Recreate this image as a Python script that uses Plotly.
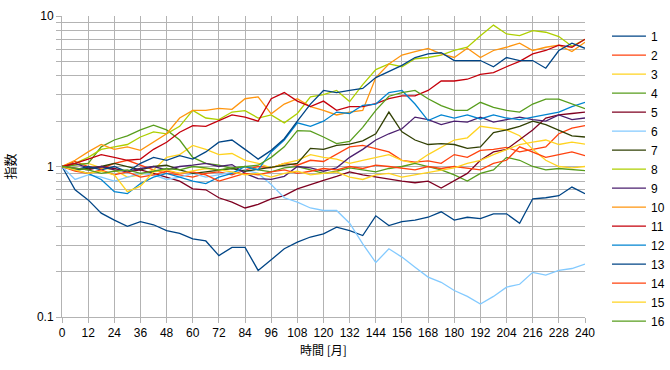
import plotly.graph_objects as go

MONTHS = list(range(0, 241, 6))

S1 = [1.0, 0.70, 0.60, 0.49, 0.44, 0.40, 0.43, 0.41, 0.375, 0.36, 0.33, 0.32, 0.256, 0.29, 0.29, 0.204, 0.24, 0.284, 0.314, 0.34, 0.357,
      0.395, 0.375, 0.348, 0.47, 0.405, 0.43, 0.44, 0.46, 0.50, 0.44, 0.46, 0.45, 0.485, 0.485, 0.42, 0.61, 0.62, 0.64, 0.73, 0.66]
S2 = [1.0, 1.08, 1.0, 0.97, 1.05, 1.1, 1.02, 0.95, 0.9, 0.88, 0.85, 0.9, 0.92, 0.88, 0.95, 1.0, 0.98, 1.05, 1.02, 1.1, 1.08,
      1.2, 1.35, 1.38, 1.32, 1.25, 1.1, 1.07, 1.09, 1.05, 1.2, 1.15, 1.28, 1.3, 1.34, 1.25, 1.3, 1.35, 1.65, 1.8, 1.87]
S3 = [1.0, 1.03, 1.05, 0.98, 0.95, 0.85, 0.88, 0.95, 1.15, 1.2, 1.38, 1.3, 1.2, 1.22, 1.1, 1.05, 0.98, 1.05, 1.1, 1.2, 1.15,
      1.12, 1.05, 1.1, 1.15, 1.2, 1.1, 1.05, 1.2, 1.35, 1.5, 1.55, 1.85, 1.8, 1.75, 1.6, 1.3, 1.1, 1.0, 0.98, 1.0]
S4 = [1.0, 1.02, 1.05, 1.35, 1.5, 1.6, 1.75, 1.88, 1.75, 1.5, 1.15, 1.05, 1.02, 0.97, 1.0, 0.95, 0.92, 0.98, 1.0, 0.95, 0.9,
      0.93, 0.98, 0.95, 0.92, 0.97, 1.0, 1.05, 1.0, 0.95, 0.88, 0.8, 0.9, 0.95, 1.15, 1.1, 1.0, 0.95, 0.97, 0.95, 0.94]
S5 = [1.0, 0.97, 0.95, 1.0, 0.97, 0.92, 0.95, 0.9, 0.85, 0.8, 0.71, 0.7, 0.62, 0.58, 0.53, 0.56, 0.61, 0.64, 0.71, 0.76, 0.81,
      0.86, 0.92, 0.88, 0.85, 0.83, 0.8, 0.78, 0.8, 0.72, 0.8, 0.9, 1.1, 1.25, 1.3, 1.5, 1.75, 2.1, 2.2, 2.25, 2.3]
S6 = [1.0, 0.82, 0.88, 0.85, 0.8, 0.85, 0.9, 0.88, 0.82, 0.85, 0.9, 0.85, 0.88, 0.92, 0.95, 0.9, 0.76, 0.62, 0.58, 0.53, 0.51,
      0.51, 0.42, 0.306, 0.23, 0.284, 0.25, 0.214, 0.184, 0.17, 0.15, 0.137, 0.122, 0.137, 0.158, 0.165, 0.198, 0.19, 0.204, 0.21, 0.225]
S7 = [1.0, 0.95, 0.97, 1.0, 1.05, 1.0, 0.95, 1.0, 1.02, 0.95, 0.9, 0.92, 0.95, 0.97, 0.93, 0.96, 0.98, 1.02, 1.05, 1.32, 1.3,
      1.38, 1.41, 1.48, 1.65, 2.3, 1.7, 1.5, 1.4, 1.42, 1.4, 1.32, 1.35, 1.68, 1.75, 1.85, 2.0, 1.9, 1.75, 1.6, 1.57]
S8 = [1.0, 1.05, 1.15, 1.3, 1.35, 1.4, 1.57, 1.7, 1.65, 1.85, 2.36, 2.1, 2.05, 2.3, 2.35, 2.1, 2.2, 1.95, 2.25, 2.9, 3.0,
      3.2, 2.7, 3.5, 4.4, 4.8, 4.6, 5.2, 5.3, 5.5, 5.9, 6.2, 7.4, 8.7, 7.6, 7.4, 8.0, 7.8, 7.3, 6.3, 7.0]
S9 = [1.0, 1.05, 0.98, 1.0, 0.95, 0.93, 0.97, 1.0, 0.95, 1.0, 1.02, 1.05, 1.0, 1.03, 0.9, 0.83, 0.82, 0.86, 1.0, 0.98, 0.93,
      0.98, 1.15, 1.3, 1.5, 1.65, 1.78, 2.13, 2.05, 1.9, 2.0, 1.97, 2.13, 1.97, 2.05, 2.13, 2.05, 2.0, 2.2, 2.05, 2.1]
S10 = [1.0, 1.1, 1.25, 1.4, 1.3, 1.35, 1.28, 1.45, 1.65, 2.1, 2.36, 2.36, 2.43, 2.4, 2.82, 2.9, 2.24, 2.6, 2.82, 2.5, 2.36,
       2.2, 2.3, 2.36, 3.9, 4.8, 5.5, 5.8, 6.1, 5.6, 5.3, 6.1, 5.3, 5.9, 6.2, 6.6, 5.9, 6.2, 6.4, 5.8, 6.7]
S11 = [1.0, 1.05, 1.12, 1.2, 1.15, 1.1, 1.12, 1.3, 1.45, 1.69, 1.87, 1.85, 2.02, 2.2, 2.13, 2.0, 2.82, 3.1, 2.72, 2.5, 2.72,
       2.36, 2.5, 2.5, 2.62, 2.82, 2.95, 2.95, 3.2, 3.7, 3.7, 3.8, 4.1, 4.2, 4.6, 5.0, 5.6, 5.9, 6.4, 6.2, 7.0]
S12 = [1.0, 0.95, 0.9, 0.82, 0.68, 0.66, 0.77, 0.85, 0.9, 0.85, 0.8, 0.77, 0.85, 0.9, 1.0, 0.95, 1.25, 1.5, 1.95, 1.85, 2.0,
       2.3, 2.25, 2.55, 2.6, 3.1, 3.2, 2.6, 2.02, 2.2, 2.1, 2.2, 2.07, 2.2, 2.1, 2.05, 2.13, 2.2, 2.3, 2.5, 2.67]
S13 = [1.0, 0.95, 1.0, 0.95, 1.0, 0.92, 1.05, 1.15, 1.1, 1.18, 1.12, 1.25, 1.45, 1.5, 1.3, 1.12, 1.28, 1.53, 2.0, 2.6, 3.2,
       3.1, 3.2, 3.3, 3.9, 4.3, 4.7, 5.3, 5.6, 5.7, 5.06, 5.06, 5.06, 4.6, 5.3, 5.06, 5.06, 4.5, 5.9, 6.6, 6.1]
S14 = [1.0, 0.93, 0.9, 0.95, 0.88, 0.92, 0.85, 0.88, 0.93, 0.9, 0.92, 0.88, 0.8, 0.85, 0.9, 0.88, 0.92, 0.95, 0.9, 0.93, 0.97,
       0.95, 1.0, 0.97, 1.02, 1.0, 0.97, 0.95, 1.0, 0.97, 1.0, 0.98, 0.95, 1.05, 1.1, 1.35, 1.25, 1.15, 1.2, 1.25, 1.18]
S15 = [1.0, 0.95, 0.9, 0.93, 0.88, 0.68, 0.74, 0.92, 0.95, 0.9, 0.93, 0.97, 0.95, 0.92, 0.88, 0.9, 0.85, 0.9, 0.93, 0.88, 0.9,
       0.92, 0.85, 0.82, 0.88, 0.9, 0.85, 0.88, 0.92, 0.95, 0.98, 1.05, 1.1, 1.2, 1.3, 1.4, 1.45, 1.5, 1.4, 1.45, 1.41]
S16 = [1.0, 0.97, 0.95, 0.9, 0.93, 0.95, 0.9, 0.93, 0.97, 0.95, 1.0, 0.98, 0.95, 0.98, 1.0, 1.02, 1.15, 1.35, 1.73, 1.72, 1.57,
       1.42, 1.47, 1.82, 2.36, 2.93, 3.1, 3.2, 2.82, 2.54, 2.36, 2.36, 2.67, 2.47, 2.36, 2.3, 2.6, 2.8, 2.8, 2.6, 2.42]

SERIES_NAMES = [str(i) for i in range(1, 17)]
SERIES = [S1, S2, S3, S4, S5, S6, S7, S8, S9, S10, S11, S12, S13, S14, S15, S16]
COLORS = ["#004586", "#ff420e", "#ffd320", "#579d1c", "#7e0021", "#83caff", "#314004", "#aecf00",
          "#4b1f6f", "#ff950e", "#c5000b", "#0084d1", "#004586", "#ff420e", "#ffd320", "#579d1c"]

X_TICKS = list(range(0, 241, 12))
Y_TICKS = [0.1, 0.2, 0.3, 0.4, 0.5, 0.6, 0.7, 0.8, 0.9, 1, 2, 3, 4, 5, 6, 7, 8, 9, 10]
Y_TICKTEXT = ["0.1"] + [""] * 8 + ["1"] + [""] * 8 + ["10"]

FONT = "Liberation Sans, Arial, Noto Sans CJK JP, sans-serif"
CJK = "Noto Sans CJK JP, sans-serif"

fig = go.Figure()
for i, (name, vals, col) in enumerate(zip(SERIES_NAMES, SERIES, COLORS)):
    fig.add_trace(go.Scatter(x=MONTHS, y=vals, mode="lines", name=name,
                             legend="legend" if i < 8 else "legend2",
                             line=dict(color=col, width=1.3)))

GRID = "#b3b3b3"
LEG = dict(x=1.042, xanchor="left", yanchor="top", itemwidth=34,
           font=dict(size=12), bgcolor="rgba(0,0,0,0)", tracegroupgap=0)
fig.update_layout(
    width=670, height=370,
    margin=dict(l=62, r=85, t=16, b=53, autoexpand=False),
    paper_bgcolor="white", plot_bgcolor="white",
    font=dict(family=FONT, size=12, color="black"),
    showlegend=True,
    legend=dict(LEG, y=0.981),
    legend2=dict(LEG, y=0.476),
    xaxis=dict(range=[0, 240], tickvals=X_TICKS, ticks="outside", ticklen=5, tickcolor=GRID,
               showgrid=True, gridcolor=GRID, gridwidth=1, zeroline=False,
               showline=True, linecolor=GRID, mirror=False,
               title=dict(text="時間 [月]", font=dict(family=CJK, size=12), standoff=7),
               tickfont=dict(size=12)),
    yaxis=dict(type="log", range=[-1, 1], tickvals=Y_TICKS, ticktext=Y_TICKTEXT,
               ticks="outside", ticklen=5, tickcolor=GRID,
               showgrid=True, gridcolor=GRID, gridwidth=1, zeroline=False,
               showline=True, linecolor=GRID,
               title=dict(text="指数", font=dict(family=CJK, size=13), standoff=18),
               tickfont=dict(size=12)),
)

fig.write_html("out.html", config={"displayModeBar": False},
               post_script="document.body.style.margin='0px';")
